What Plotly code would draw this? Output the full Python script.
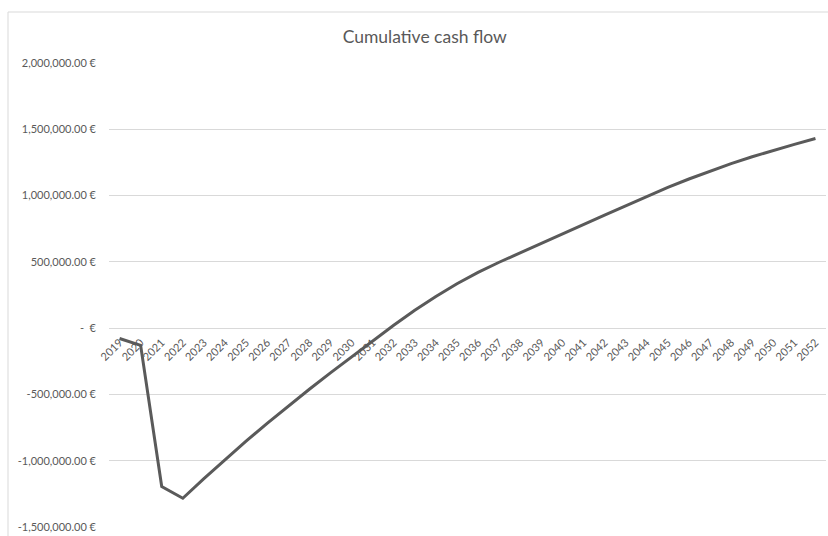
import plotly.graph_objects as go

# Years on the category axis
years = [str(y) for y in range(2019, 2053)]

# Cumulative cash flow per year (EUR)
cumulative_cash_flow = [
    -78000, -130000, -1195000, -1283000, -1135000, -993000, -853000, -718000,
    -588000, -461000, -337000, -215000, -95000, 22000, 135000, 239000,
    335000, 421000, 497000, 569000, 640000, 711000, 782000, 852000,
    922000, 992000, 1061000, 1125000, 1185000, 1241000, 1293000, 1341000,
    1386000, 1430000,
]

# Value axis ticks, accounting-style labels
y_ticks = [-1500000, -1000000, -500000, 0, 500000, 1000000, 1500000, 2000000]
y_tick_labels = [
    "-1,500,000.00 €", "-1,000,000.00 €", "-500,000.00 €", "-  €",
    "500,000.00 €", "1,000,000.00 €", "1,500,000.00 €", "2,000,000.00 €",
]

y_min, y_max = -1500000, 2000000
text_grey = "#595959"
grid_grey = "#d9d9d9"
font_family = "Lato, 'Open Sans', sans-serif"

fig = go.Figure()
fig.add_trace(go.Scatter(
    x=years,
    y=cumulative_cash_flow,
    mode="lines",
    line=dict(color="#5a5a5a", width=3),
    hoverinfo="x+y",
    showlegend=False,
))

# horizontal axis sits on the zero line
zero_pos = (0 - y_min) / (y_max - y_min)

fig.update_layout(
    width=828,
    height=536,
    margin=dict(l=109, r=2, t=63, b=9),
    paper_bgcolor="white",
    plot_bgcolor="white",
    font=dict(family=font_family, color=text_grey, size=11),
    title=dict(
        text="Cumulative cash flow",
        x=0.513,
        xref="container",
        xanchor="center",
        y=1 - 37 / 536,
        yref="container",
        yanchor="middle",
        font=dict(size=17.5, color=text_grey, family=font_family),
    ),
    xaxis=dict(
        type="category",
        range=[-0.5, len(years) - 0.5],
        anchor="free",
        position=zero_pos,
        tickangle=-45,
        showgrid=False,
        showline=False,
        zeroline=False,
        ticks="",
        ticklabelstandoff=5,
        tickfont=dict(size=11, color=text_grey),
    ),
    yaxis=dict(
        range=[y_min, y_max],
        tickvals=y_ticks,
        ticktext=y_tick_labels,
        showgrid=True,
        gridcolor=grid_grey,
        gridwidth=1,
        zeroline=False,
        showline=False,
        ticks="",
        ticklabelstandoff=12,
        tickfont=dict(size=11, color=text_grey),
    ),
    shapes=[
        dict(
            type="rect",
            xref="paper",
            yref="paper",
            x0=(8 - 109) / 717,
            x1=1.05,
            y0=-0.1,
            y1=1 + (63 - 12) / 464,
            line=dict(color=grid_grey, width=1),
            fillcolor="rgba(0,0,0,0)",
            layer="below",
        )
    ],
)

fig.write_html("out.html")
